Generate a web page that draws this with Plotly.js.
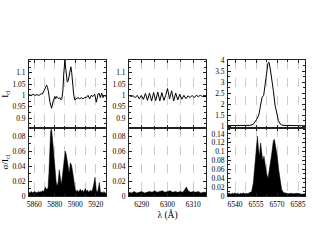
<!DOCTYPE html>
<html>
<head>
<meta charset="utf-8">
<script src="https://cdn.plot.ly/plotly-3.0.1.min.js"></script>
<style>html,body{margin:0;padding:0;background:#fff}#c{width:317px;height:245px}</style>
</head>
<body>
<div id="c"></div>
<script>
// Panel 1 (Na D / He I region)
const lamA = [5855,5857,5859,5861,5863,5865,5867,5868,5869.6,5871,5872.2,5873,5873.8,5875.4,5876.2,5877,5878.6,5879.5,5880.2,5881,5882,5883,5884,5885,5886,5887,5888,5888.8,5889.5,5890,5890.7,5891.4,5892.3,5893.2,5894.2,5895.2,5895.8,5896.6,5897.5,5898.5,5899.5,5901.1,5902.7,5904.3,5906,5907.6,5909.2,5910.8,5912.5,5914.1,5915.7,5917.3,5919,5920.6,5922.2,5923.2,5924.5,5925.8,5927.1,5928.4,5930];
const icA  = [1.003,1.0,1.004,1.0,1.003,1.0,1.008,1.005,1.02,1.035,1.045,1.035,1.02,0.97,0.95,0.943,0.975,0.99,0.995,0.985,0.995,0.99,0.985,0.99,0.98,0.985,1.02,1.09,1.14,1.16,1.12,1.08,1.058,1.065,1.09,1.12,1.126,1.1,1.05,1.005,0.98,0.985,0.99,0.985,0.99,0.985,0.99,0.99,1.0,0.985,1.0,0.995,1.005,0.97,1.005,1.01,0.99,1.01,0.99,1.0,0.995];
const lamAs = [5855,5856,5857,5858,5859,5860,5861,5862,5863,5864,5865,5866,5867,5868,5869,5870,5871,5872,5873.5,5874.4,5875,5876,5876.7,5877.3,5878.3,5879.3,5880.3,5881.5,5882.5,5883.5,5884.5,5885.4,5886.4,5887.4,5888.4,5889.4,5890.3,5891.3,5892.3,5893.2,5894.2,5895.2,5896.2,5897.2,5898.1,5899.1,5900.1,5901,5902,5903,5904,5905,5906,5907,5908,5909,5910,5911,5912,5913,5914,5915,5916,5917,5918,5919.3,5920.5,5921,5922,5923.5,5924.5,5925,5926,5927,5928,5929,5930];
const sigA  = [0.005,0.004,0.006,0.005,0.004,0.006,0.005,0.005,0.004,0.006,0.005,0.006,0.005,0.007,0.006,0.008,0.012,0.009,0.01,0.03,0.06,0.085,0.09,0.085,0.07,0.05,0.03,0.018,0.013,0.02,0.035,0.02,0.015,0.025,0.04,0.05,0.06,0.055,0.045,0.035,0.03,0.044,0.042,0.035,0.025,0.015,0.008,0.006,0.008,0.005,0.007,0.009,0.006,0.008,0.005,0.007,0.01,0.006,0.008,0.005,0.007,0.008,0.006,0.009,0.015,0.025,0.008,0.006,0.006,0.018,0.006,0.005,0.005,0.004,0.006,0.004,0.004];

// Panel 2 ([O I] region)
const lamB = [6285,6285.8,6286.6,6287.4,6288.2,6289.0,6289.8,6290.6,6291.4,6292.2,6293.0,6293.8,6294.6,6295.4,6296.2,6297.0,6297.8,6298.6,6299.3,6300.0,6300.8,6301.6,6302.4,6303.2,6304.0,6304.8,6305.6,6306.4,6307.2,6308.0,6308.8,6309.6,6310.4,6311.2,6312.0,6312.8,6313.6,6314.4,6315];
const icB  = [1.0,0.995,0.998,0.99,1.0,0.985,1.0,0.982,1.008,0.978,1.01,0.975,1.012,0.977,1.015,0.975,1.012,0.978,1.0,1.03,0.985,1.02,0.975,1.01,0.98,1.005,0.983,1.0,0.985,0.998,0.99,1.0,0.99,1.0,0.995,1.0,0.995,0.995,0.995];
const lamBs = [6285,6286,6287,6288,6289,6290,6291,6292,6293,6294,6295,6296,6297,6298,6299,6300,6301,6302,6303,6304,6305,6306,6306.8,6307.4,6308,6309,6310,6311,6312,6313,6314,6315];
const sigB  = [0.005,0.004,0.006,0.004,0.005,0.006,0.004,0.005,0.006,0.005,0.007,0.005,0.006,0.007,0.005,0.006,0.007,0.005,0.006,0.005,0.006,0.005,0.009,0.012,0.007,0.005,0.006,0.005,0.006,0.004,0.005,0.005];

// Panel 3 (H-alpha region)
const lamC = [6535,6540,6545,6548,6550.7,6553.1,6555.5,6557.0,6558.0,6559.3,6560.5,6561.5,6562.6,6563.5,6564.3,6565.2,6566.2,6567.4,6568.6,6569.8,6571,6572.2,6573.3,6575,6580,6585,6590];
const icC  = [1.02,1.03,1.02,1.03,1.03,1.08,1.3,1.5,1.9,2.3,2.4,2.8,3.4,3.85,3.9,3.6,3.2,2.6,1.95,1.5,1.25,1.1,1.05,1.03,1.02,1.01,1.01];
const lamCs = [6535,6536,6537,6538,6539,6540,6541,6542,6543,6544,6545,6546,6547,6548,6549,6550,6551,6551.9,6553.1,6554.3,6555,6556,6556.7,6557.4,6558.3,6559,6559.8,6560.7,6561.7,6562.6,6563.6,6564.5,6565.5,6566.4,6567.4,6568.1,6569,6570.2,6571.2,6572.1,6573.3,6574.5,6576,6578,6580,6582,6584,6586,6588,6590];
const sigC  = [0.005,0.006,0.004,0.006,0.005,0.007,0.005,0.006,0.004,0.006,0.005,0.007,0.005,0.006,0.005,0.007,0.008,0.01,0.03,0.07,0.1,0.135,0.11,0.09,0.12,0.1,0.08,0.09,0.065,0.05,0.04,0.055,0.08,0.1,0.125,0.128,0.115,0.09,0.06,0.035,0.015,0.008,0.006,0.005,0.006,0.005,0.006,0.005,0.004,0.005];

// Tick labels
const ticksTopNarrow = [0.9,0.95,1,1.05,1.1];
const ticksTopWide = [1,1.5,2,2.5,3,3.5,4];
const ticksSig = [0,0.02,0.04,0.06,0.08];
const ticksSigWide = [0,0.02,0.04,0.06,0.08,0.1,0.12,0.14];

const lineC = '#222';
const fnt = {family:'Liberation Serif, Times New Roman, serif', size:7.5, color:'#000'};
const xd = [[29/317,106/317],[129/317,206/317],[228/317,305/317]];
const ydBot = [49/245, 117/245], ydTop = [117/245, 185/245];

function xax(dom, rng, dt, t0, mdt, labels, anchor){
  return {domain:dom, range:rng, dtick:dt, tick0:t0, tickmode:'linear', showticklabels:labels,
    ticks:'inside', ticklen:3, tickcolor:lineC, showline:true, linecolor:lineC, linewidth:1, mirror:'ticks',
    showgrid:true, griddash:'dash', gridcolor:'#aaa', gridwidth:0.6, zeroline:false, anchor:anchor,
    tickfont:fnt, ticklabelstandoff:1,
    minor:{dtick:mdt, tick0:t0, showgrid:true, griddash:'dash', gridcolor:'#aaa', gridwidth:0.6, ticks:'inside', ticklen:2, tickcolor:lineC}};
}
function yax(dom, rng, vals, mdt, anchor, title){
  const a = {domain:dom, range:rng, tickmode:'array', tickvals:vals,
    ticks:'inside', ticklen:3, tickcolor:lineC, showline:true, linecolor:lineC, linewidth:1, mirror:'ticks',
    showgrid:false, zeroline:false, anchor:anchor, tickfont:fnt, ticklabelstandoff:1,
    minor:{dtick:mdt, tick0:vals[0], ticks:'inside', ticklen:2, tickcolor:lineC}};
  if (title) a.title = {text:title, font:{family:fnt.family, size:9, color:'#000'}, standoff:2};
  return a;
}

const traces = [
  {x:lamAs, y:sigA, xaxis:'x', yaxis:'y', type:'scatter', mode:'lines', fill:'tozeroy', fillcolor:'#000', line:{color:'#000', width:0.5}},
  {x:lamA, y:icA, xaxis:'x2', yaxis:'y2', type:'scatter', mode:'lines', line:{color:'#000', width:1}},
  {x:lamBs, y:sigB, xaxis:'x3', yaxis:'y3', type:'scatter', mode:'lines', fill:'tozeroy', fillcolor:'#000', line:{color:'#000', width:0.5}},
  {x:lamB, y:icB, xaxis:'x4', yaxis:'y4', type:'scatter', mode:'lines', line:{color:'#000', width:1}},
  {x:lamCs, y:sigC, xaxis:'x5', yaxis:'y5', type:'scatter', mode:'lines', fill:'tozeroy', fillcolor:'#000', line:{color:'#000', width:0.5}},
  {x:lamC, y:icC, xaxis:'x6', yaxis:'y6', type:'scatter', mode:'lines', line:{color:'#000', width:1}}
];

const xB3 = xax(xd[1],[6285,6315],10,6290,5,true,'y3');
xB3.title = {text:'λ (Å)', font:{family:fnt.family, size:9.5, color:'#000'}, standoff:3};

const layout = {
  width:317, height:245, margin:{l:0,r:0,t:0,b:0}, showlegend:false,
  paper_bgcolor:'#fff', plot_bgcolor:'#fff', font:fnt,
  xaxis: xax(xd[0],[5855,5930],20,5860,10,true,'y'),
  yaxis: yax(ydBot,[0,0.0907],ticksSig,0.01,'x','σ/I<sub>cl</sub>'),
  xaxis2: xax(xd[0],[5855,5930],20,5860,10,false,'y2'),
  yaxis2: yax(ydTop,[0.856,1.156],ticksTopNarrow,0.025,'x2','I<sub>cl</sub>'),
  xaxis3: xB3,
  yaxis3: yax(ydBot,[0,0.0907],ticksSig,0.01,'x3'),
  xaxis4: xax(xd[1],[6285,6315],10,6290,5,false,'y4'),
  yaxis4: yax(ydTop,[0.856,1.156],ticksTopNarrow,0.025,'x4'),
  xaxis5: xax(xd[2],[6535,6590],15,6540,7.5,true,'y5'),
  yaxis5: yax(ydBot,[0,0.1535],ticksSigWide,0.01,'x5'),
  xaxis6: xax(xd[2],[6535,6590],15,6540,7.5,false,'y6'),
  yaxis6: yax(ydTop,[0.91,4.0],ticksTopWide,0.25,'x6')
};

Plotly.newPlot('c', traces, layout, {staticPlot:true, displayModeBar:false});
</script>
</body>
</html>
